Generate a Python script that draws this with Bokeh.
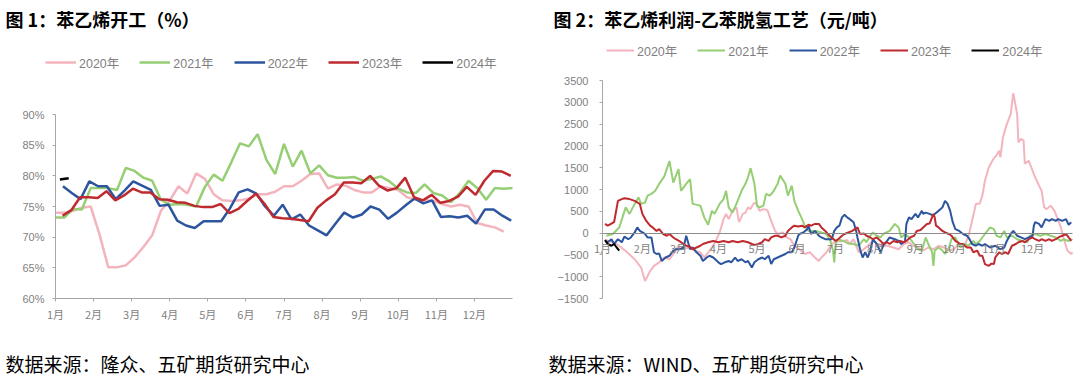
from bokeh.plotting import figure
from bokeh.layouts import row
from bokeh.models import (Range1d, FixedTicker, PrintfTickFormatter, Legend,
                          LegendItem, Label)
from bokeh.embed import file_html
from bokeh.resources import INLINE

# ---------------- data ----------------
MONTHS = ["1月", "2月", "3月", "4月", "5月", "6月", "7月", "8月", "9月", "10月", "11月", "12月"]
MONTH_START_DAY = [0, 31, 59, 90, 120, 151, 181, 212, 243, 273, 304, 334]
YEARS = ["2020年", "2021年", "2022年", "2023年", "2024年"]
COLORS = ["#F4B4BD", "#96CE74", "#2D559F", "#BF2A2F", "#000000"]
TITLE_1 = "图 1：苯乙烯开工（%）"
TITLE_2 = "图 2：苯乙烯利润-乙苯脱氢工艺（元/吨）"
SOURCE_1 = "数据来源：隆众、五矿期货研究中心"
SOURCE_2 = "数据来源：WIND、五矿期货研究中心"

# Chart 1: styrene operating rate (%), weekly
RUN_2020 = [74.0, 74.0, 74.3, 74.8, 75.0, 70.5, 65.1, 65.1, 65.4, 66.7, 68.4, 70.3, 74.3, 76.0,
            78.3, 77.1, 80.4, 79.5, 77.0, 76.0, 75.9, 76.0, 76.3, 77.0, 77.0, 77.4, 78.3, 78.3,
            79.2, 80.3, 80.4, 77.9, 78.6, 78.4, 77.7, 77.3, 77.3, 78.3, 78.0, 77.7, 76.5, 76.1,
            76.0, 75.9, 75.4, 75.0, 75.3, 75.0, 72.3, 71.9, 71.6, 70.9]
RUN_2021 = [73.2, 73.2, 74.6, 74.5, 78.0, 78.0, 78.0, 77.7, 81.3, 80.8, 79.7, 79.2, 76.1, 75.3,
            75.4, 75.3, 75.0, 78.2, 80.2, 79.2, 82.2, 85.3, 84.8, 86.8, 82.6, 80.3, 85.2, 81.5,
            84.1, 80.4, 81.7, 80.1, 79.7, 79.7, 79.8, 79.2, 79.5, 79.9, 79.1, 77.9, 77.3, 77.2,
            78.6, 77.2, 76.8, 75.7, 77.2, 79.2, 78.0, 76.1, 78.0, 77.9, 78.0]
RUN_2022 = [78.3, 77.2, 76.2, 79.1, 78.3, 78.3, 76.2, 77.6, 79.1, 78.4, 77.7, 75.1, 75.3, 72.7,
            71.9, 71.5, 72.6, 72.6, 72.6, 74.7, 77.3, 77.8, 77.1, 75.0, 73.5, 75.3, 72.9, 73.7,
            71.9, 71.1, 70.3, 72.2, 74.0, 73.2, 73.7, 75.0, 74.5, 73.0, 74.0, 75.2, 76.3, 75.5,
            76.0, 73.3, 73.4, 73.2, 73.5, 72.2, 74.5, 74.5, 73.5, 72.7]
RUN_2023 = [73.5, 74.4, 76.5, 76.5, 76.4, 77.5, 76.0, 76.8, 77.9, 77.3, 77.3, 76.2, 76.1, 75.7,
            75.6, 75.1, 74.9, 74.9, 75.4, 73.9, 74.6, 75.9, 77.1, 75.4, 73.3, 73.1, 73.0, 72.8,
            72.6, 74.8, 76.0, 77.0, 78.9, 78.9, 78.8, 80.0, 78.4, 77.6, 78.0, 79.7, 76.5, 76.0,
            76.9, 75.6, 75.9, 76.6, 78.2, 76.9, 79.2, 80.8, 80.7, 80.0]
RUN_2024 = [79.4, 79.6]
RUN_FIRST_WEEK = [0.0, 0.0, 0.85, 0.8, 0.5]   # week of first observation

# Chart 2: styrene profit, ethylbenzene dehydrogenation (yuan/t), by day of year
PF_2020_DAY = [2, 11, 18, 25, 30, 33, 37, 40, 44, 48, 52, 56, 59, 60, 68, 72, 76, 79, 85, 88, 91,
               94, 96, 98, 101, 104, 106, 109, 111, 113, 115, 117, 119, 122, 125, 128, 131, 134,
               136, 140, 143, 146, 149, 153, 157, 161, 165, 168, 170, 174, 178, 182, 186, 190,
               192, 195, 199, 203, 206, 210, 214, 218, 221, 226, 230, 234, 238, 241, 245, 249,
               253, 257, 261, 265, 269, 273, 276, 280, 284, 287, 290, 293, 295, 297, 300, 304,
               306, 308, 309, 311, 314, 317, 319, 322, 323, 325, 327, 328, 331, 334, 336, 339,
               341, 343, 345, 348, 351, 353, 356, 358, 361, 364, 365]
PF_2020_VAL = [-150, -250, -410, -600, -790, -1100, -870, -750, -670, -560, -600, -440, -290,
               -370, -330, -410, -440, -560, -330, -180, 15, 320, 440, 320, 510, 590, 250, 440,
               470, 590, 550, 670, 700, 510, 550, 530, 280, 50, -20, 15, -100, -140, -290, -370,
               -480, -440, -560, -640, -560, -440, -250, -180, -190, -160, -250, -140, -440,
               -370, -290, -180, -250, -290, -290, -330, -370, -250, -210, -290, -330, -400,
               -330, -370, -290, -330, -400, -370, -250, -330, -100, 280, 670, 680, 860, 1200,
               1510, 1720, 1780, 1890, 1740, 2200, 2500, 2730, 3210, 2730, 2080, 2160, 2120,
               1590, 1660, 1430, 1280, 1090, 970, 590, 550, 630, 510, 360, 130, -100, -400,
               -480, -440]
PF_2021_DAY = [3, 8, 13, 18, 21, 25, 28, 30, 33, 35, 38, 41, 44, 48, 52, 55, 59, 61, 65, 68, 70,
               76, 79, 82, 85, 87, 91, 94, 96, 98, 101, 104, 108, 111, 113, 115, 118, 120, 122,
               125, 127, 130, 133, 136, 138, 142, 144, 147, 149, 152, 155, 157, 160, 166, 170,
               174, 177, 179, 180, 181, 183, 187, 191, 195, 199, 203, 205, 208, 210, 213, 216,
               218, 223, 227, 230, 232, 235, 238, 242, 245, 248, 251, 253, 256, 257, 258, 261,
               264, 266, 269, 271, 274, 278, 282, 284, 288, 290, 293, 297, 301, 304, 306, 309,
               312, 314, 318, 322, 326, 330, 332, 336, 340, 344, 348, 352, 356, 358, 362, 365]
PF_2021_VAL = [-60, -20, 130, 590, 440, 670, 820, 670, 700, 860, 900, 970, 1130, 1300, 1650,
               1160, 1470, 970, 1130, 1240, 670, 630, 360, 190, 510, 440, 670, 780, 970, 590,
               470, 670, 970, 1130, 1280, 1490, 1130, 630, 590, 630, 900, 860, 970, 1130, 1320,
               1130, 860, 1090, 740, 510, 320, 170, 50, 50, 15, -20, -180, -400, -670, -250,
               -140, -180, -240, -250, -290, -140, -210, -60, 15, -60, -100, -20, 50, 210, 130,
               -100, -20, -100, -250, -370, -400, -100, -250, -440, -750, -400, -330, -400,
               -480, -330, -140, -100, -330, -250, -290, -180, -250, -180, -20, 130, 90, -60,
               -100, 50, -100, -60, -140, -180, -210, -60, -20, -60, -20, -60, -100, -180,
               -140, -180, -140]
PF_2022_DAY = [2, 4, 7, 9, 12, 15, 17, 20, 22, 25, 27, 29, 33, 35, 38, 40, 42, 44, 46, 49, 52,
               55, 57, 60, 63, 65, 68, 70, 73, 76, 78, 81, 83, 86, 90, 92, 95, 98, 100, 103,
               105, 108, 111, 113, 116, 118, 121, 124, 126, 129, 131, 133, 136, 139, 142, 144,
               147, 149, 152, 153, 156, 159, 160, 162, 165, 168, 170, 173, 175, 178, 180, 182,
               184, 186, 188, 190, 192, 195, 197, 198, 200, 202, 204, 206, 208, 210, 211, 213,
               216, 218, 221, 223, 227, 230, 232, 235, 236, 238, 240, 243, 245, 248, 249, 251,
               254, 257, 258, 261, 264, 266, 268, 270, 272, 274, 277, 280, 283, 285, 287, 290,
               292, 295, 297, 301, 305, 309, 312, 314, 317, 319, 322, 325, 328, 331, 334, 335,
               336, 339, 341, 344, 347, 349, 352, 354, 357, 360, 362, 364]
PF_2022_VAL = [-180, -210, -140, -250, -140, -210, -80, -140, -100, 15, 130, 50, -20, -100,
               -100, -440, -480, -470, -640, -560, -520, -400, -370, -370, -330, -60, -370,
               -330, -440, -520, -640, -560, -520, -560, -670, -710, -670, -640, -670, -560,
               -640, -600, -670, -640, -790, -670, -600, -560, -600, -520, -710, -600, -560,
               -520, -480, -440, -440, -330, -60, -20, 15, 90, 170, -20, 50, -60, -100, -140,
               -140, -140, 50, 130, 170, 360, 420, 360, 320, 250, 50, -100, -370, -560, -440,
               -560, -400, -140, -180, -250, -440, -290, -180, -100, -140, -180, -250, -180,
               210, 360, 320, 440, 360, 510, 440, 470, 440, 400, 440, 510, 590, 740, 670, 510,
               250, 90, 50, -20, -60, -140, -250, -290, -250, -290, -250, -330, -290, -370,
               -330, -180, -20, 50, -60, -100, -140, -100, -60, 170, 250, 210, 130, 320, 280,
               320, 280, 320, 280, 320, 190, 250]
PF_2023_DAY = [2, 4, 7, 9, 12, 15, 17, 21, 25, 29, 31, 34, 37, 39, 42, 44, 47, 50, 52, 55, 57,
               60, 63, 65, 68, 70, 73, 76, 78, 82, 86, 90, 94, 98, 101, 105, 109, 113, 116, 118,
               121, 124, 126, 129, 131, 134, 136, 139, 142, 144, 147, 149, 152, 155, 157, 160,
               162, 165, 168, 170, 173, 175, 178, 181, 183, 186, 188, 191, 194, 196, 198, 200,
               203, 205, 208, 210, 213, 216, 218, 221, 223, 226, 229, 231, 234, 236, 239, 242,
               244, 247, 249, 252, 254, 257, 258, 259, 261, 264, 266, 269, 271, 274, 278, 280,
               283, 286, 288, 291, 293, 295, 297, 300, 302, 304, 305, 308, 310, 313, 315, 318,
               321, 323, 326, 328, 331, 334, 336, 339, 341, 344, 347, 349, 352, 354, 357, 360,
               362, 364]
PF_2023_VAL = [210, 170, 220, 250, 740, 780, 800, 780, 740, 670, 440, 280, 170, 130, 50, 90,
               -20, -60, -20, -100, -140, -190, -250, -290, -310, -370, -330, -290, -250, -210,
               -180, -210, -180, -210, -180, -210, -180, -210, -250, -270, -250, -210, -140,
               -180, -100, -60, -60, -100, -60, 50, 130, 170, 150, 170, 130, 190, 170, 210, 210,
               130, 50, -20, -100, -180, -140, -60, -20, 15, 50, 90, 130, -20, -10, -60, -100,
               -140, -100, -180, -250, -210, -250, -180, -210, -180, -210, -180, -100, -60, 50,
               70, 130, 210, 220, 440, 360, 170, 130, 50, 15, -20, -60, -180, -250, -250, -330,
               -330, -440, -400, -520, -520, -710, -750, -700, -710, -560, -440, -480, -440,
               -480, -290, -250, -210, -180, -210, -140, -100, -140, -180, -140, -180, -140,
               -180, -140, -100, -60, -20, -100, -180]
PF_2024_DAY = [2, 4, 7, 9, 11, 13]
PF_2024_VAL = [-160, -250, -290, -250, -330, -400]

# ---------------- layout geometry (page pixels) ----------------
FIG_H = 382
LABEL_FONT = "Liberation Sans, Noto Sans CJK SC"
CJK_FONT = "Noto Sans CJK SC"
AXIS_GREY = "#A6A6A6"
TEXT_GREY = "#7F7F7F"


def span_range(v0, v1, p0, p1, size, vertical=False):
    """Range covering the whole canvas so that value v0 sits at pixel p0 and v1 at p1
    (pixels counted from the left, or from the top when vertical)."""
    per_px = (v1 - v0) / (p1 - p0)
    at = lambda q: v0 + (q - p0) * per_px
    if vertical:
        return Range1d(at(size), at(0))
    return Range1d(at(0), at(size))


def chart_figure(width, x_range, y_range):
    p = figure(width=width, height=FIG_H, output_backend="svg", toolbar_location=None,
               x_range=x_range, y_range=y_range, min_border=0)
    p.outline_line_color = None
    p.grid.visible = False
    p.background_fill_color = "white"
    p.border_fill_color = "white"
    for ax in (p.xaxis[0], p.yaxis[0]):
        ax.axis_line_color = AXIS_GREY
        ax.major_tick_line_color = AXIS_GREY
        ax.minor_tick_line_color = None
        ax.major_tick_in = 0
        ax.major_tick_out = 3
        ax.major_label_text_color = TEXT_GREY
        ax.major_label_text_font = LABEL_FONT
        ax.major_label_text_font_size = "11px"
    return p


def series_legend(p, renderers, x_left, y_center, glyph_w, spacing):
    items = [LegendItem(label=yr, renderers=[r]) for yr, r in zip(YEARS, renderers)]
    lg = Legend(items=items, orientation="horizontal",
                location=(x_left, FIG_H - y_center - 10),
                glyph_width=glyph_w, glyph_height=20, label_height=20,
                label_standoff=3, spacing=spacing, padding=0, margin=0,
                border_line_color=None, background_fill_alpha=0,
                label_text_font=LABEL_FONT, label_text_font_size="12.5px",
                label_text_color=TEXT_GREY)
    p.add_layout(lg, "center")


def add_text(p, text, x, y_top, size, bold=False, baseline="top"):
    p.add_layout(Label(x=x, y=FIG_H - y_top, x_units="screen", y_units="screen", text=text,
                       text_font=CJK_FONT, text_font_size=size,
                       text_font_style="bold" if bold else "normal",
                       text_color="black", text_baseline=baseline, text_align="left"))


# ---------------- chart 1 ----------------
W1 = 548
p1 = chart_figure(W1, span_range(0, 12, 55, 512, W1),
                  span_range(60, 90, 298, 114, FIG_H, vertical=True))
runs = [RUN_2020, RUN_2021, RUN_2022, RUN_2023, RUN_2024]
r1 = []
for vals, first, color in zip(runs, RUN_FIRST_WEEK, COLORS):
    xs = [(first + i) * 12 / 52 for i in range(len(vals))]
    r1.append(p1.line(xs, vals, line_color=color, line_width=2.5))
p1.yaxis.fixed_location = 0
p1.yaxis.bounds = (60, 90)
p1.yaxis.ticker = FixedTicker(ticks=[60, 65, 70, 75, 80, 85, 90])
p1.yaxis.formatter = PrintfTickFormatter(format="%d%%")
p1.yaxis.major_label_standoff = 8
p1.xaxis.fixed_location = 60
p1.xaxis.bounds = (0, 12)
p1.xaxis.ticker = FixedTicker(ticks=list(range(12)))
p1.xaxis.major_label_overrides = {i: m for i, m in enumerate(MONTHS)}
p1.xaxis.major_label_standoff = 4
p1.xaxis.major_label_text_font = CJK_FONT
series_legend(p1, r1, 45, 62, 31, 20)
add_text(p1, TITLE_1, 5, 5, "18px", bold=True)
add_text(p1, SOURCE_1, 5, 363, "19px", baseline="middle")

# ---------------- chart 2 (starts at page x = 548) ----------------
W2 = 532
p2 = chart_figure(W2, span_range(0, 365, 54, 524, W2),
                  span_range(-1500, 3500, 298, 80, FIG_H, vertical=True))
r2 = []
pf = [(PF_2020_DAY, PF_2020_VAL), (PF_2021_DAY, PF_2021_VAL), (PF_2022_DAY, PF_2022_VAL),
      (PF_2023_DAY, PF_2023_VAL), (PF_2024_DAY, PF_2024_VAL)]
for (d, v), color in zip(pf, COLORS):
    r2.append(p2.line(d, v, line_color=color, line_width=2))
yt = list(range(-1500, 3501, 500))
p2.yaxis.fixed_location = 0
p2.yaxis.bounds = (-1500, 3500)
p2.yaxis.ticker = FixedTicker(ticks=yt)
p2.yaxis.major_label_overrides = {t: str(t).replace("-", "\u2212") for t in yt}
p2.yaxis.major_label_standoff = 11
# the x axis sits on the zero line, month names just below it
p2.xaxis.fixed_location = 0
p2.xaxis.bounds = (0, 365)
p2.xaxis.axis_line_color = "#8C8C8C"
p2.xaxis.major_tick_out = 0
p2.xaxis.ticker = FixedTicker(ticks=MONTH_START_DAY)
p2.xaxis.major_label_overrides = {d: m for d, m in zip(MONTH_START_DAY, MONTHS)}
p2.xaxis.major_label_standoff = 7
p2.xaxis.major_label_text_font = CJK_FONT
series_legend(p2, r2, 58, 50, 28, 20)
add_text(p2, TITLE_2, 5, 5, "18px", bold=True)
add_text(p2, SOURCE_2, 0, 363, "19px", baseline="middle")

layout = row(p1, p2, spacing=0)
open("out.html", "w").write(file_html(layout, INLINE))
